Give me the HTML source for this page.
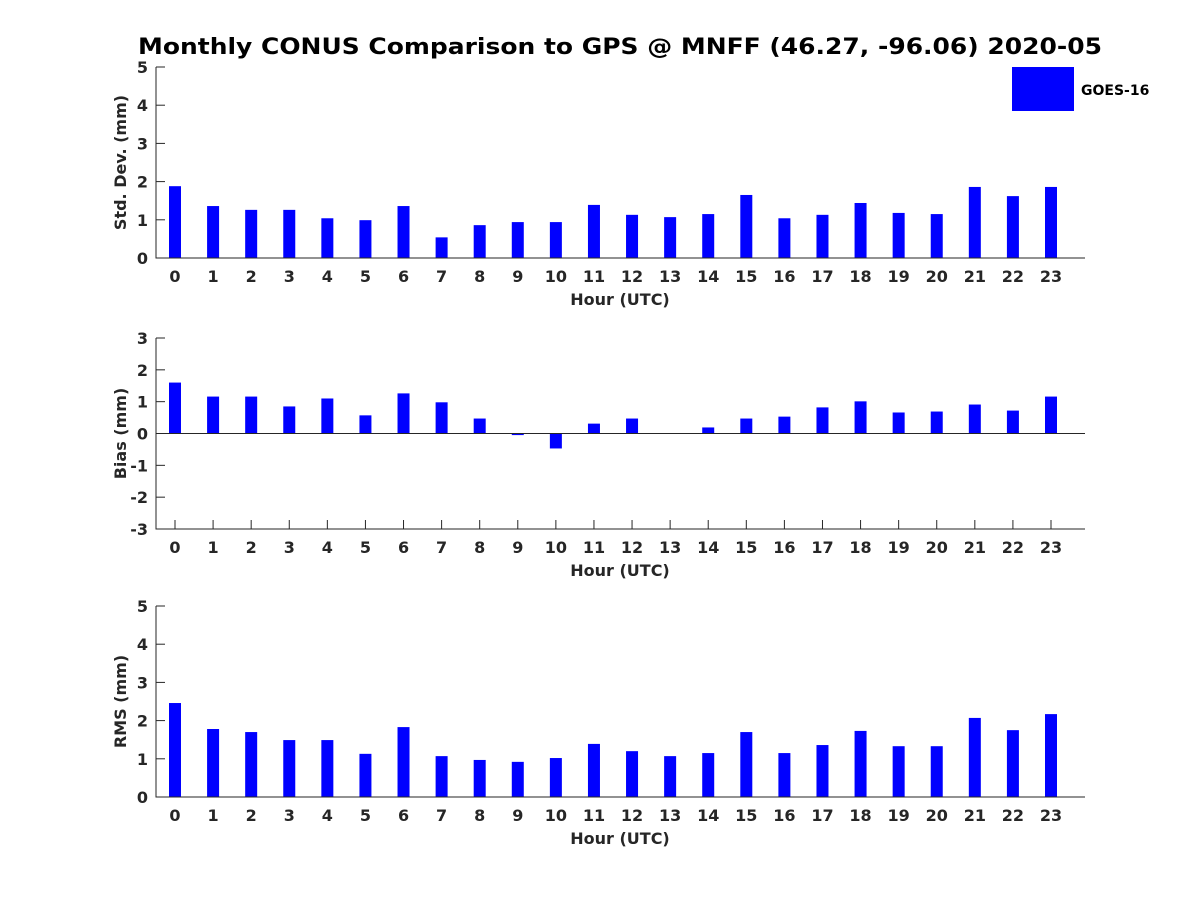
<!DOCTYPE html>
<html><head><meta charset="utf-8"><style>
body{margin:0;background:#fff}
text{font-family:"DejaVu Sans","Liberation Sans",sans-serif;font-weight:bold;fill:#262626}
</style></head><body>
<svg id="c" width="1200" height="900" xmlns="http://www.w3.org/2000/svg">
<text x="620" y="54" text-anchor="middle" font-size="22" textLength="964" lengthAdjust="spacingAndGlyphs" style="fill:#000">Monthly CONUS Comparison to GPS @ MNFF (46.27, -96.06) 2020-05</text>
<rect x="1012" y="67" width="62" height="44" fill="#0000ff"/>
<text x="1081" y="95" font-size="14" style="fill:#000">GOES-16</text>
</svg>
<script>
const hours=[0,1,2,3,4,5,6,7,8,9,10,11,12,13,14,15,16,17,18,19,20,21,22,23];
const stdVals=[1.88,1.36,1.26,1.26,1.04,0.99,1.36,0.54,0.86,0.94,0.94,1.39,1.13,1.07,1.15,1.65,1.04,1.13,1.44,1.18,1.15,1.86,1.62,1.86];
const biasVals=[1.6,1.16,1.16,0.85,1.1,0.57,1.26,0.98,0.47,-0.05,-0.47,0.31,0.47,0,0.19,0.47,0.53,0.82,1.01,0.66,0.69,0.91,0.72,1.16];
const rmsVals=[2.46,1.78,1.7,1.49,1.49,1.13,1.83,1.07,0.97,0.92,1.02,1.39,1.2,1.07,1.15,1.7,1.15,1.36,1.73,1.33,1.33,2.07,1.75,2.17];
const stdTicks=[0,1,2,3,4,5];
const biasTicks=[-3,-2,-1,0,1,2,3];
const rmsTicks=[0,1,2,3,4,5];
const svg=document.getElementById('c');
const NS='http://www.w3.org/2000/svg';
function mk(tag,at){const e=document.createElementNS(NS,tag);for(const k in at)e.setAttribute(k,at[k]);svg.appendChild(e);return e;}
const L=156,R=1085;
const xs=h=>175+h*(1051-175)/23;
function panel(name,top,bottom,ymin,ymax,vals,ticks,ylabel){
  const ys=v=>bottom-(v-ymin)*(bottom-top)/(ymax-ymin);
  let e;
  hours.forEach(h=>{const x=xs(h);
    e=mk('line',{x1:x,x2:x,y1:bottom,y2:bottom-9,stroke:'#262626'});
    
    
    e=mk('text',{x:x,y:bottom+24,'text-anchor':'middle','font-size':16});e.textContent=h;
    
    
  });
  vals.forEach((v,i)=>{const y0=ys(0),y1=ys(v);
    e=mk('rect',{x:xs(hours[i])-6,y:Math.min(y0,y1),width:12,height:Math.abs(y1-y0),fill:'#0000ff'});
    
    
  });
  if(ymin<0){e=mk('line',{x1:L,x2:R,y1:ys(0),y2:ys(0),stroke:'#262626','stroke-width':1});
    
    }
  e=mk('path',{d:`M${L},${top}V${bottom}H${R}`,fill:'none',stroke:'#262626','stroke-width':1});
  
  
  ticks.forEach(t=>{const y=ys(t);
    e=mk('line',{x1:L,x2:L+9,y1:y,y2:y,stroke:'#262626'});
    
    
    e=mk('text',{x:L-8,y:y+6,'text-anchor':'end','font-size':16});e.textContent=t;
    
    
  });
  e=mk('text',{x:620,y:bottom+47,'text-anchor':'middle','font-size':16});e.textContent='Hour (UTC)';
  
  
  const cy=(top+bottom)/2;
  e=mk('text',{x:126,y:cy,'text-anchor':'middle','font-size':16,transform:`rotate(-90 126 ${cy})`});e.textContent=ylabel;
  
  
}
panel('std',67,258,0,5,stdVals,stdTicks,'Std. Dev. (mm)');
panel('bias',338,529,-3,3,biasVals,biasTicks,'Bias (mm)');
panel('rms',606,797,0,5,rmsVals,rmsTicks,'RMS (mm)');
</script>
</body></html>
